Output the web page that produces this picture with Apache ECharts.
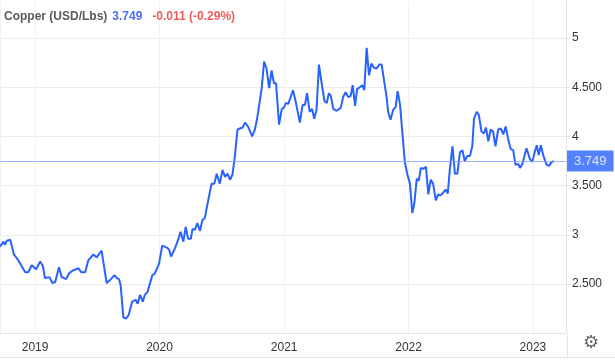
<!DOCTYPE html>
<html>
<head>
<meta charset="utf-8">
<script src="https://cdn.jsdelivr.net/npm/echarts@6/dist/echarts.min.js"></script>
<style>
  html, body { margin: 0; padding: 0; background: #fff; }
  #chart { width: 615px; height: 360px; }
</style>
</head>
<body>
<div id="chart"></div>
<script>
// copper price, USD/Lbs
var dates = [
  '2018-09-20','2018-09-30','2018-10-05','2018-10-10','2018-10-15','2018-10-20','2018-10-25','2018-10-31',
  '2018-11-13','2018-12-03','2018-12-12','2018-12-22','2018-12-27','2019-01-04','2019-01-16','2019-01-24',
  '2019-01-30','2019-02-12','2019-02-21','2019-03-01','2019-03-12','2019-03-20','2019-04-02','2019-04-11',
  '2019-04-23','2019-05-01','2019-05-08','2019-05-16','2019-05-28','2019-06-06','2019-06-21','2019-07-01',
  '2019-07-15','2019-07-30','2019-08-09','2019-08-22','2019-08-29','2019-09-04','2019-09-09','2019-09-17',
  '2019-09-25','2019-10-02','2019-10-13','2019-10-23','2019-10-29','2019-11-05','2019-11-13','2019-11-19',
  '2019-11-27','2019-12-11','2019-12-17','2019-12-24','2019-12-31','2020-01-09','2020-01-22','2020-01-29',
  '2020-02-04','2020-02-15','2020-02-25','2020-03-03','2020-03-11','2020-03-18','2020-03-25','2020-04-02',
  '2020-04-07','2020-04-14','2020-04-21','2020-04-29','2020-05-06','2020-05-13','2020-05-23','2020-06-02',
  '2020-06-10','2020-06-17','2020-06-26','2020-07-04','2020-07-11','2020-07-19','2020-07-26','2020-08-02',
  '2020-08-09','2020-08-17','2020-08-24','2020-09-01','2020-09-08','2020-09-17','2020-09-29','2020-10-07',
  '2020-10-14','2020-10-27','2020-11-03','2020-11-10','2020-11-18','2020-11-25','2020-12-02','2020-12-08',
  '2020-12-17','2020-12-25','2020-12-31','2021-01-06','2021-01-13','2021-01-20','2021-01-27','2021-02-04',
  '2021-02-09','2021-02-16','2021-02-24','2021-03-03','2021-03-09','2021-03-17','2021-03-24','2021-03-30',
  '2021-04-06','2021-04-13','2021-04-21','2021-04-29','2021-05-06','2021-05-12','2021-05-18','2021-05-25',
  '2021-06-04','2021-06-16','2021-06-23','2021-06-30','2021-07-08','2021-07-15','2021-07-21','2021-07-28',
  '2021-08-03','2021-08-11','2021-08-18','2021-08-24','2021-08-31','2021-09-07','2021-09-14','2021-09-21',
  '2021-09-29','2021-10-07','2021-10-14','2021-10-21','2021-10-29','2021-11-02','2021-11-09','2021-11-17',
  '2021-11-24','2021-11-30','2021-12-07','2021-12-13','2021-12-21','2021-12-28','2022-01-05','2022-01-12',
  '2022-01-18','2022-01-25','2022-01-31','2022-02-06','2022-02-13','2022-02-21','2022-02-28','2022-03-07',
  '2022-03-14','2022-03-22','2022-03-29','2022-04-05','2022-04-13','2022-04-20','2022-04-26','2022-05-02',
  '2022-05-10','2022-05-17','2022-05-24','2022-06-01','2022-06-08','2022-06-15','2022-06-22','2022-06-30',
  '2022-07-07','2022-07-12','2022-07-20','2022-07-26','2022-08-03','2022-08-10','2022-08-16','2022-08-23',
  '2022-08-30','2022-09-06','2022-09-13','2022-09-21','2022-09-29','2022-10-06','2022-10-13','2022-10-21',
  '2022-10-28','2022-11-04','2022-11-11','2022-11-19','2022-11-24','2022-12-01','2022-12-13','2022-12-23',
  '2022-12-30','2023-01-04','2023-01-12','2023-01-18','2023-01-24','2023-01-31','2023-02-10','2023-02-17',
  '2023-02-25','2023-03-03'
];
var prices = [
  2.88, 2.93, 2.90, 2.94, 2.92, 2.95, 2.96, 2.80,
  2.74, 2.62, 2.62, 2.69, 2.69, 2.65, 2.73, 2.68,
  2.56, 2.57, 2.51, 2.52, 2.67, 2.57, 2.55, 2.61,
  2.64, 2.65, 2.66, 2.62, 2.62, 2.74, 2.80, 2.77,
  2.84, 2.51, 2.54, 2.59, 2.56, 2.55, 2.49, 2.16,
  2.15, 2.18, 2.32, 2.34, 2.30, 2.39, 2.32, 2.39,
  2.42, 2.59, 2.60, 2.65, 2.71, 2.89, 2.87, 2.85,
  2.78, 2.86, 2.95, 3.03, 2.93, 3.08, 2.96, 2.96,
  3.06, 3.05, 3.12, 3.04, 3.15, 3.17, 3.35, 3.52,
  3.52, 3.62, 3.52, 3.66, 3.59, 3.62, 3.56, 3.61,
  3.79, 4.07, 4.08, 4.09, 4.14, 4.10, 4.00, 4.07,
  4.19, 4.49, 4.76, 4.69, 4.49, 4.67, 4.54, 4.54,
  4.12, 4.28, 4.29, 4.34, 4.33, 4.40, 4.47, 4.35,
  4.37, 4.14, 4.32, 4.32, 4.44, 4.25, 4.28, 4.18,
  4.27, 4.73, 4.54, 4.36, 4.34, 4.44, 4.41, 4.28,
  4.26, 4.29, 4.40, 4.45, 4.40, 4.41, 4.52, 4.31,
  4.48, 4.50, 4.52, 4.47, 4.90, 4.62, 4.74, 4.70,
  4.69, 4.73, 4.73, 4.57, 4.39, 4.25, 4.17, 4.27,
  4.30, 4.46, 4.32, 4.07, 3.74, 3.62, 3.52, 3.22,
  3.32, 3.57, 3.55, 3.68, 3.67, 3.69, 3.41, 3.56,
  3.52, 3.35, 3.41, 3.40, 3.43, 3.46, 3.42, 3.66,
  3.90, 3.62, 3.62, 3.84, 3.86, 3.75, 3.80, 3.80,
  3.90, 4.18, 4.25, 4.22, 4.05, 4.03, 4.09, 3.95,
  4.07, 4.05, 3.90, 4.07, 4.08, 4.02, 4.10, 3.96,
  3.87, 3.86, 3.71, 3.72, 3.68, 3.72, 3.88, 3.77,
  3.74, 3.81, 3.91, 3.81, 3.91, 3.81, 3.71, 3.70,
  3.74, 3.749
];
var lastPrice = 3.749;
var change = '-0.011 (-0.29%)';
var titleName = 'Copper (USD/Lbs)';

var blue = '#2962ff';
var font = 'Arial, "Liberation Sans", sans-serif';

var seriesData = [];
for (var i = 0; i < dates.length; i++) {
    seriesData.push([dates[i], prices[i]]);
}

// horizontal grid colours, last one (top edge of the plot) hidden
var gridColors = ['#ebebeb', '#ebebeb', '#ebebeb', '#ebebeb', '#ebebeb', '#ebebeb', '#ebebeb', 'rgba(0,0,0,0)'];

var myChart = echarts.init(document.getElementById('chart'));
myChart.setOption({
    animation: false,
    backgroundColor: '#fff',
    textStyle: { fontFamily: font },
    title: {
        left: -1,
        top: 3,
        text: '{a|' + titleName + '} {b|' + lastPrice + '}  {c|' + change + '}',
        textStyle: {
            rich: {
                a: { fontSize: 12, color: '#5a5a5a', fontFamily: font },
                b: { fontSize: 12, color: '#4a6cf7', fontFamily: font },
                c: { fontSize: 12, color: '#ef5b5b', fontFamily: font }
            }
        }
    },
    grid: { left: 0, right: 49, top: 0.6, bottom: 26.8 },
    xAxis: {
        type: 'time',
        min: '2018-09-20',
        max: '2023-04-08',
        minInterval: 360 * 24 * 3600 * 1000,
        axisLine: { show: true, lineStyle: { color: '#e3e3e3' } },
        axisTick: { show: false },
        splitLine: { show: true, lineStyle: { color: '#f1f1f1' } },
        axisLabel: {
            color: '#333',
            fontSize: 12,
            margin: 8,
            showMinLabel: false,
            showMaxLabel: false,
            formatter: function (val) {
                return String(new Date(val).getFullYear());
            }
        }
    },
    yAxis: {
        type: 'value',
        position: 'right',
        min: 2,
        max: 5.38,
        interval: 0.5,
        axisLine: { show: true, lineStyle: { color: '#e3e3e3' } },
        axisTick: { show: true, length: 4, lineStyle: { color: '#e3e3e3' } },
        splitLine: { show: true, lineStyle: { color: gridColors } },
        axisLabel: {
            color: '#333',
            fontSize: 12,
            margin: 6,
            showMinLabel: false,
            showMaxLabel: false,
            formatter: function (v) {
                return v % 1 === 0 ? String(v) : v.toFixed(3);
            }
        }
    },
    series: [
        {
            name: 'Copper',
            type: 'line',
            data: seriesData,
            showSymbol: false,
            lineStyle: { color: blue, width: 2 },
            itemStyle: { color: blue },
            markLine: {
                silent: true,
                symbol: 'none',
                lineStyle: { color: '#85a0ff', type: 'solid', width: 1, opacity: 0.8 },
                label: {
                    position: 'end',
                    distance: 1,
                    formatter: String(lastPrice),
                    color: '#fff',
                    fontSize: 13,
                    backgroundColor: blue,
                    padding: [4, 7, 4, 7]
                },
                data: [{ yAxis: lastPrice }]
            }
        }
    ],
    graphic: [
        {
            type: 'line',
            shape: { x1: 0, y1: 357.5, x2: 615, y2: 357.5 },
            style: { stroke: '#e6e6e6', lineWidth: 1 }
        },
        {
            type: 'line',
            shape: { x1: 567.5, y1: 334, x2: 567.5, y2: 358 },
            style: { stroke: '#e6e6e6', lineWidth: 1 }
        },
        {
            type: 'text',
            left: 583,
            top: 334,
            style: { text: '\u2699', fontSize: 18, fill: '#6a6a6a', fontFamily: 'DejaVu Sans' }
        }
    ]
});
</script>
</body>
</html>
